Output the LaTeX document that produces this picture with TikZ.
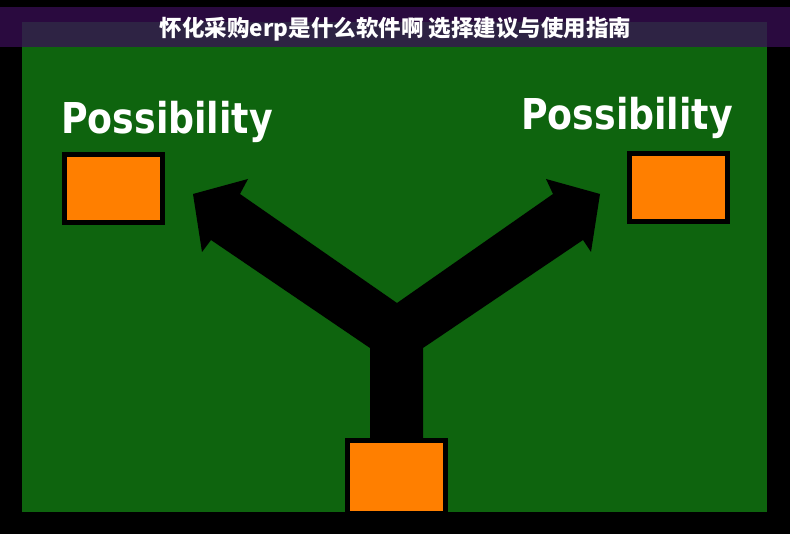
\documentclass[tikz,border=0pt]{standalone}
\usepackage{fontspec}
\newfontfamily\cjk{Noto Sans CJK SC}
\newfontfamily\possfont[FakeStretch=0.855]{DejaVu Sans Bold}
\definecolor{bandpurple}{HTML}{2A0A3F}
\definecolor{titlegray}{HTML}{2E2344}
\definecolor{boardgreen}{HTML}{0E640E}
\definecolor{boxorange}{HTML}{FF7F00}
\tikzset{
  orangebox/.style={draw=black, line width=5pt, fill=boxorange,
    minimum width=98pt, minimum height=68pt, inner sep=0pt},
  posslabel/.style={anchor=base west, inner sep=0pt, text=white,
    font=\possfont\fontsize{42.5}{50}\selectfont}
}
\begin{document}
\begin{tikzpicture}[x=1pt,y=-1pt]
    \useasboundingbox (0,0) rectangle (790,534);
    \fill[black] (0,0) rectangle (790,534);
    \fill[bandpurple] (0,7) rectangle (790,47);
    \fill[titlegray] (22,22) rectangle (767,47);
    \fill[boardgreen] (22,47) rectangle (767,512);
    \node[text=white, font=\cjk\bfseries\fontsize{22.5}{26}\selectfont] (title) at (395.5,29) {怀化采购erp是什么软件啊 选择建议与使用指南};
    %
    \node[posslabel] (lposs) at (61,134) {Possibility};
    \node[posslabel] (rposs) at (521,130) {Possibility};
    %
    \coordinate (stemL) at (370,441);
    \coordinate (stemR) at (423,441);
    \coordinate (notch) at (397,303);
    \fill[black] (stemL) -- (370,348) -- (211,240) -- (202,252) -- (193,194)
      -- (248,179) -- (240,194) -- (notch) -- (553,194) -- (546,179)
      -- (600,194) -- (591,252) -- (583,240) -- (423,348) -- (stemR) -- cycle;
    %
    \node[orangebox] (lbox) at (113.5,188.5) {};
    \node[orangebox] (rbox) at (678.5,187.5) {};
    \node[orangebox, minimum height=73pt] (bbox) at (396.5,477) {};
    \fill[black] (0,512) rectangle (790,534);
\end{tikzpicture}
\end{document}
